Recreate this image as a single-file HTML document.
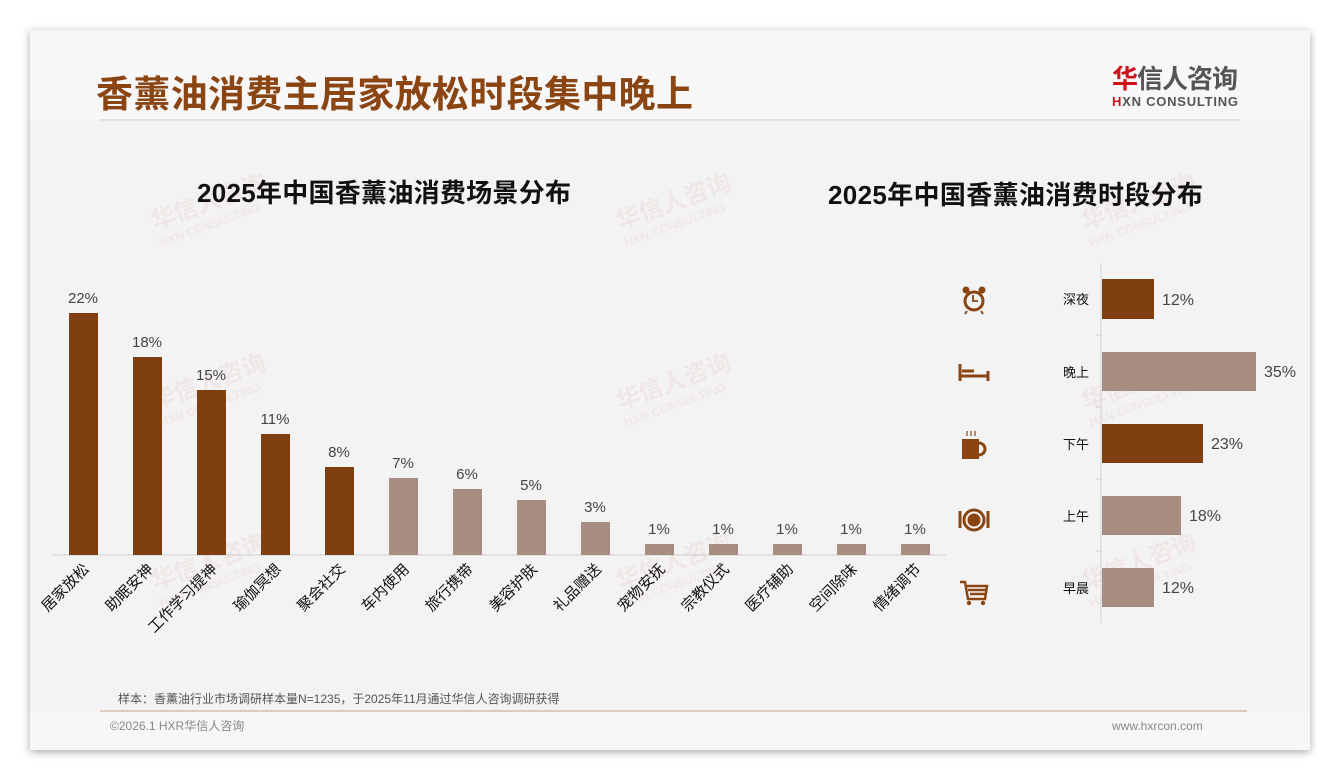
<!DOCTYPE html>
<html><head><meta charset="utf-8"><style>
html,body{margin:0;padding:0;background:#fff;}
body{width:1340px;height:780px;position:relative;overflow:hidden;font-family:"Liberation Sans","Noto Sans CJK SC",sans-serif;}
.card{position:absolute;left:30px;top:30px;width:1280px;height:720px;background:#f3f3f3;box-shadow:0 2px 8px rgba(0,0,0,0.35);}
</style></head><body>
<div class="card"></div>
<svg width="1340" height="780" style="position:absolute;left:0;top:0" font-family="Liberation Sans, Noto Sans CJK SC, sans-serif">
<rect x="30" y="30" width="1280" height="90" fill="#f7f7f7"/>
<rect x="30" y="712" width="1280" height="38" fill="#f7f7f7"/>
<text x="96" y="107" font-size="37" font-weight="bold" fill="#8a4513" textLength="597">香薰油消费主居家放松时段集中晚上</text>
<line x1="100" y1="120" x2="1240" y2="120" stroke="#dcdcdc" stroke-width="1.5"/>
<text x="1112" y="88" font-size="26" font-weight="bold" fill="#555" textLength="126"><tspan fill="#d0121b">华</tspan>信人咨询</text>
<text x="1112" y="106" font-size="13" font-weight="bold" fill="#555" textLength="126"><tspan fill="#d0121b">H</tspan>XN CONSULTING</text>
<g fill="#e9c9c9" font-size="24" font-weight="bold" opacity="0.3">
<g transform="translate(155,230) rotate(-20)"><text>华信人咨询</text><text y="18" font-size="12">HXN CONSULTING</text></g>
<g transform="translate(620,230) rotate(-20)"><text>华信人咨询</text><text y="18" font-size="12">HXN CONSULTING</text></g>
<g transform="translate(1085,230) rotate(-20)"><text>华信人咨询</text><text y="18" font-size="12">HXN CONSULTING</text></g>
<g transform="translate(155,410) rotate(-20)"><text>华信人咨询</text><text y="18" font-size="12">HXN CONSULTING</text></g>
<g transform="translate(620,410) rotate(-20)"><text>华信人咨询</text><text y="18" font-size="12">HXN CONSULTING</text></g>
<g transform="translate(1085,410) rotate(-20)"><text>华信人咨询</text><text y="18" font-size="12">HXN CONSULTING</text></g>
<g transform="translate(155,590) rotate(-20)"><text>华信人咨询</text><text y="18" font-size="12">HXN CONSULTING</text></g>
<g transform="translate(620,590) rotate(-20)"><text>华信人咨询</text><text y="18" font-size="12">HXN CONSULTING</text></g>
<g transform="translate(1085,590) rotate(-20)"><text>华信人咨询</text><text y="18" font-size="12">HXN CONSULTING</text></g>
</g>
<text x="197" y="202" font-size="26" font-weight="bold" fill="#111" textLength="374">2025年中国香薰油消费场景分布</text>
<text x="828" y="204" font-size="26" font-weight="bold" fill="#111" textLength="375">2025年中国香薰油消费时段分布</text>
<line x1="52" y1="555" x2="946" y2="555" stroke="#d0d0d0"/>
<g font-size="15" fill="#444" text-anchor="middle">
<rect x="69" y="313" width="29" height="242" fill="#7f3f10"/><text x="83" y="303">22%</text>
<rect x="133" y="357" width="29" height="198" fill="#7f3f10"/><text x="147" y="347">18%</text>
<rect x="197" y="390" width="29" height="165" fill="#7f3f10"/><text x="211" y="380">15%</text>
<rect x="261" y="434" width="29" height="121" fill="#7f3f10"/><text x="275" y="424">11%</text>
<rect x="325" y="467" width="29" height="88" fill="#7f3f10"/><text x="339" y="457">8%</text>
<rect x="389" y="478" width="29" height="77" fill="#a88d83"/><text x="403" y="468">7%</text>
<rect x="453" y="489" width="29" height="66" fill="#a88d83"/><text x="467" y="479">6%</text>
<rect x="517" y="500" width="29" height="55" fill="#a88d83"/><text x="531" y="490">5%</text>
<rect x="581" y="522" width="29" height="33" fill="#a88d83"/><text x="595" y="512">3%</text>
<rect x="645" y="544" width="29" height="11" fill="#a88d83"/><text x="659" y="534">1%</text>
<rect x="709" y="544" width="29" height="11" fill="#a88d83"/><text x="723" y="534">1%</text>
<rect x="773" y="544" width="29" height="11" fill="#a88d83"/><text x="787" y="534">1%</text>
<rect x="837" y="544" width="29" height="11" fill="#a88d83"/><text x="851" y="534">1%</text>
<rect x="901" y="544" width="29" height="11" fill="#a88d83"/><text x="915" y="534">1%</text>
</g>
<g font-size="15" fill="#111" text-anchor="end">
<text transform="translate(90,570) rotate(-45)">居家放松</text>
<text transform="translate(154,570) rotate(-45)">助眠安神</text>
<text transform="translate(218,570) rotate(-45)">工作学习提神</text>
<text transform="translate(282,570) rotate(-45)">瑜伽冥想</text>
<text transform="translate(346,570) rotate(-45)">聚会社交</text>
<text transform="translate(410,570) rotate(-45)">车内使用</text>
<text transform="translate(474,570) rotate(-45)">旅行携带</text>
<text transform="translate(538,570) rotate(-45)">美容护肤</text>
<text transform="translate(602,570) rotate(-45)">礼品赠送</text>
<text transform="translate(666,570) rotate(-45)">宠物安抚</text>
<text transform="translate(730,570) rotate(-45)">宗教仪式</text>
<text transform="translate(794,570) rotate(-45)">医疗辅助</text>
<text transform="translate(858,570) rotate(-45)">空间除味</text>
<text transform="translate(922,570) rotate(-45)">情绪调节</text>
</g>
<line x1="1101" y1="263" x2="1101" y2="623" stroke="#d0d0d0"/>
<g stroke="#d0d0d0"><line x1="1096" y1="335" x2="1101" y2="335"/><line x1="1096" y1="407" x2="1101" y2="407"/><line x1="1096" y1="479" x2="1101" y2="479"/><line x1="1096" y1="551" x2="1101" y2="551"/></g>
<rect x="1102" y="279" width="52" height="40" fill="#7f3f10"/>
<rect x="1102" y="352" width="154" height="39" fill="#a88d83"/>
<rect x="1102" y="424" width="101" height="39" fill="#7f3f10"/>
<rect x="1102" y="496" width="79" height="39" fill="#a88d83"/>
<rect x="1102" y="568" width="52" height="39" fill="#a88d83"/>
<g font-size="16" fill="#444">
<text x="1162" y="305">12%</text><text x="1264" y="377">35%</text><text x="1211" y="449">23%</text><text x="1189" y="521">18%</text><text x="1162" y="593">12%</text>
</g>
<g font-size="13" fill="#111">
<text x="1063" y="304">深夜</text><text x="1063" y="377">晚上</text><text x="1063" y="449">下午</text><text x="1063" y="521">上午</text><text x="1063" y="593">早晨</text>
</g>
<g fill="#8a4513" stroke="#8a4513">
<circle cx="974" cy="301" r="9" fill="none" stroke-width="3"/><path d="M973 295v6h5" fill="none" stroke-width="1.8"/><circle cx="966" cy="290" r="3.5" stroke="none"/><circle cx="982" cy="290" r="3.5" stroke="none"/><path d="M967 311l-2 3M981 311l2 3" stroke-width="2"/>
<path d="M960 364v17M960 376h28M988 371v10M962 371h12" fill="none" stroke-width="3"/>
<rect x="962" y="439" width="17" height="20" stroke="none"/><path d="M979 443a6 6 0 0 1 0 12" fill="none" stroke-width="3"/><path d="M967 431v5M971 431v5M975 431v5" stroke-width="1.2"/>
<circle cx="974" cy="520" r="10" fill="#f3f3f3" stroke-width="3"/><circle cx="974" cy="520" r="6.5" stroke="none"/><path d="M960 511v17M988 511v17" stroke-width="3"/>
<path d="M960 582h5l3 17h17l2-13h-20M968 590h19M970 594h16" fill="none" stroke-width="2.5"/><circle cx="969" cy="603" r="2.2" stroke="none"/><circle cx="983" cy="603" r="2.2" stroke="none"/>
</g>
<text x="118" y="703" font-size="12" fill="#555">样本：香薰油行业市场调研样本量N=1235，于2025年11月通过华信人咨询调研获得</text>
<line x1="100" y1="711" x2="1247" y2="711" stroke="#c8a48e"/>
<text x="110" y="730" font-size="12" fill="#888">©2026.1 HXR华信人咨询</text>
<text x="1112" y="730" font-size="12" fill="#888">www.hxrcon.com</text>
</svg>
</body></html>
